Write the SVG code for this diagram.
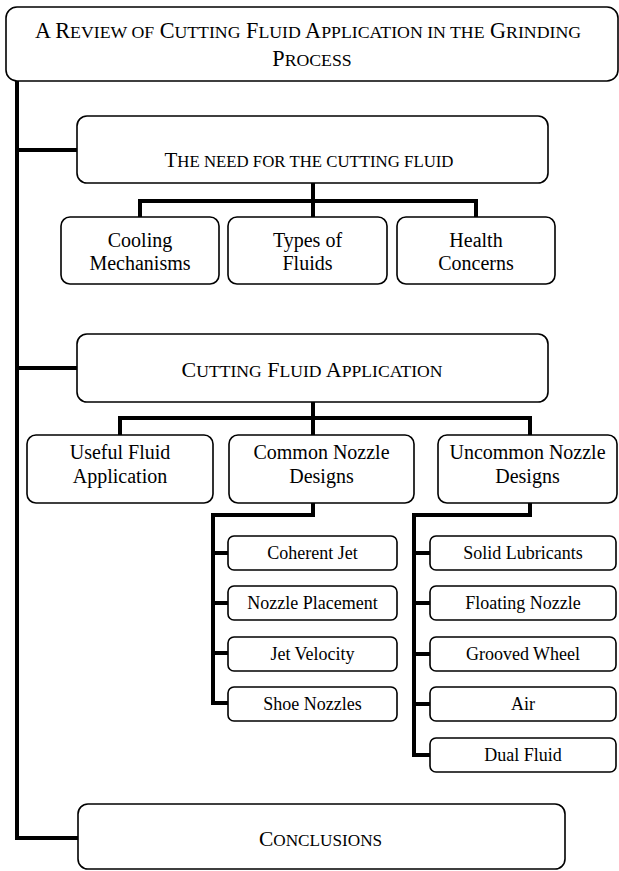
<svg xmlns="http://www.w3.org/2000/svg" width="619" height="871" viewBox="0 0 619 871">
<style>
.box{fill:#fff;stroke:#000;stroke-width:1.6}
.t{font-family:"Liberation Serif","Times New Roman",serif;fill:#000;text-anchor:middle}
.h{font-size:22.2px}
.m{font-size:21px}
.m2{font-size:22px}
.m3{font-size:21.5px}
.c{font-size:20px}
.s{font-size:18px}
.sc{font-size:0.8em}
.ln{fill:none;stroke:#000;stroke-width:4;stroke-linejoin:miter;stroke-linecap:butt}
</style>
<rect width="619" height="871" fill="#fff"/>
<g id="connectors">
<path class="ln" d="M17,80 V840 M15,150 H77 M15,368 H77 M15,838 H78"/>
<path class="ln" d="M313,183 V217 M140,217 V201 H476 V217"/>
<path class="ln" d="M313,402 V435 M120,435 V418 H530 V435"/>
<path class="ln" d="M313,503 V515 H213 V703 H228 M213,553 H228 M213,603 H228 M213,653 H228"/>
<path class="ln" d="M530,503 V515 H414 V755 H430 M414,553 H430 M414,603 H430 M414,654 H430 M414,704 H430"/>
</g>
<g id="n-title">
<rect class="box" x="6" y="7" width="612" height="74" rx="11"/>
<text class="t h" x="308" y="38">A R<tspan class="sc">EVIEW OF</tspan> C<tspan class="sc">UTTING</tspan> F<tspan class="sc">LUID</tspan> A<tspan class="sc">PPLICATION IN THE</tspan> G<tspan class="sc">RINDING</tspan></text>
<text class="t h" x="312" y="66">P<tspan class="sc">ROCESS</tspan></text>
</g>
<g id="n-need">
<rect class="box" x="77" y="116" width="471" height="67" rx="10"/>
<text class="t m" x="309" y="167">T<tspan class="sc">HE NEED FOR THE CUTTING FLUID</tspan></text>
</g>
<g id="n-cooling">
<rect class="box" x="61" y="217" width="158" height="67" rx="9"/>
<text class="t c" x="140" y="247">Cooling</text>
<text class="t c" x="140" y="270">Mechanisms</text>
</g>
<g id="n-types">
<rect class="box" x="228" y="217" width="159" height="67" rx="9"/>
<text class="t c" x="307.5" y="247">Types of</text>
<text class="t c" x="307.5" y="270">Fluids</text>
</g>
<g id="n-health">
<rect class="box" x="397" y="217" width="158" height="67" rx="9"/>
<text class="t c" x="476" y="247">Health</text>
<text class="t c" x="476" y="270">Concerns</text>
</g>
<g id="n-application">
<rect class="box" x="77" y="334" width="471" height="68" rx="10"/>
<text class="t m2" x="312" y="377">C<tspan class="sc">UTTING</tspan> F<tspan class="sc">LUID</tspan> A<tspan class="sc">PPLICATION</tspan></text>
</g>
<g id="n-useful">
<rect class="box" x="27" y="435" width="186" height="68" rx="9"/>
<text class="t c" x="120" y="459">Useful Fluid</text>
<text class="t c" x="120" y="483">Application</text>
</g>
<g id="n-common">
<rect class="box" x="229" y="435" width="185" height="68" rx="9"/>
<text class="t c" x="321.5" y="459">Common Nozzle</text>
<text class="t c" x="321.5" y="483">Designs</text>
</g>
<g id="n-uncommon">
<rect class="box" x="438" y="435" width="179" height="68" rx="9"/>
<text class="t c" x="527.5" y="459">Uncommon Nozzle</text>
<text class="t c" x="527.5" y="483">Designs</text>
</g>
<g id="n-coherent">
<rect class="box" x="228" y="536" width="169" height="34" rx="6"/>
<text class="t s" x="312.5" y="559">Coherent Jet</text>
</g>
<g id="n-placement">
<rect class="box" x="228" y="586" width="169" height="34" rx="6"/>
<text class="t s" x="312.5" y="609">Nozzle Placement</text>
</g>
<g id="n-velocity">
<rect class="box" x="228" y="637" width="169" height="34" rx="6"/>
<text class="t s" x="312.5" y="660">Jet Velocity</text>
</g>
<g id="n-shoe">
<rect class="box" x="228" y="687" width="169" height="34" rx="6"/>
<text class="t s" x="312.5" y="710">Shoe Nozzles</text>
</g>
<g id="n-solid">
<rect class="box" x="430" y="536" width="186" height="34" rx="6"/>
<text class="t s" x="523" y="559">Solid Lubricants</text>
</g>
<g id="n-floating">
<rect class="box" x="430" y="586" width="186" height="34" rx="6"/>
<text class="t s" x="523" y="609">Floating Nozzle</text>
</g>
<g id="n-grooved">
<rect class="box" x="430" y="637" width="186" height="34" rx="6"/>
<text class="t s" x="523" y="660">Grooved Wheel</text>
</g>
<g id="n-air">
<rect class="box" x="430" y="687" width="186" height="34" rx="6"/>
<text class="t s" x="523" y="710">Air</text>
</g>
<g id="n-dual">
<rect class="box" x="430" y="738" width="186" height="34" rx="6"/>
<text class="t s" x="523" y="761">Dual Fluid</text>
</g>
<g id="n-conclusions">
<rect class="box" x="78" y="804" width="487" height="65" rx="10"/>
<text class="t m3" x="320.5" y="846">C<tspan class="sc">ONCLUSIONS</tspan></text>
</g>
</svg>
